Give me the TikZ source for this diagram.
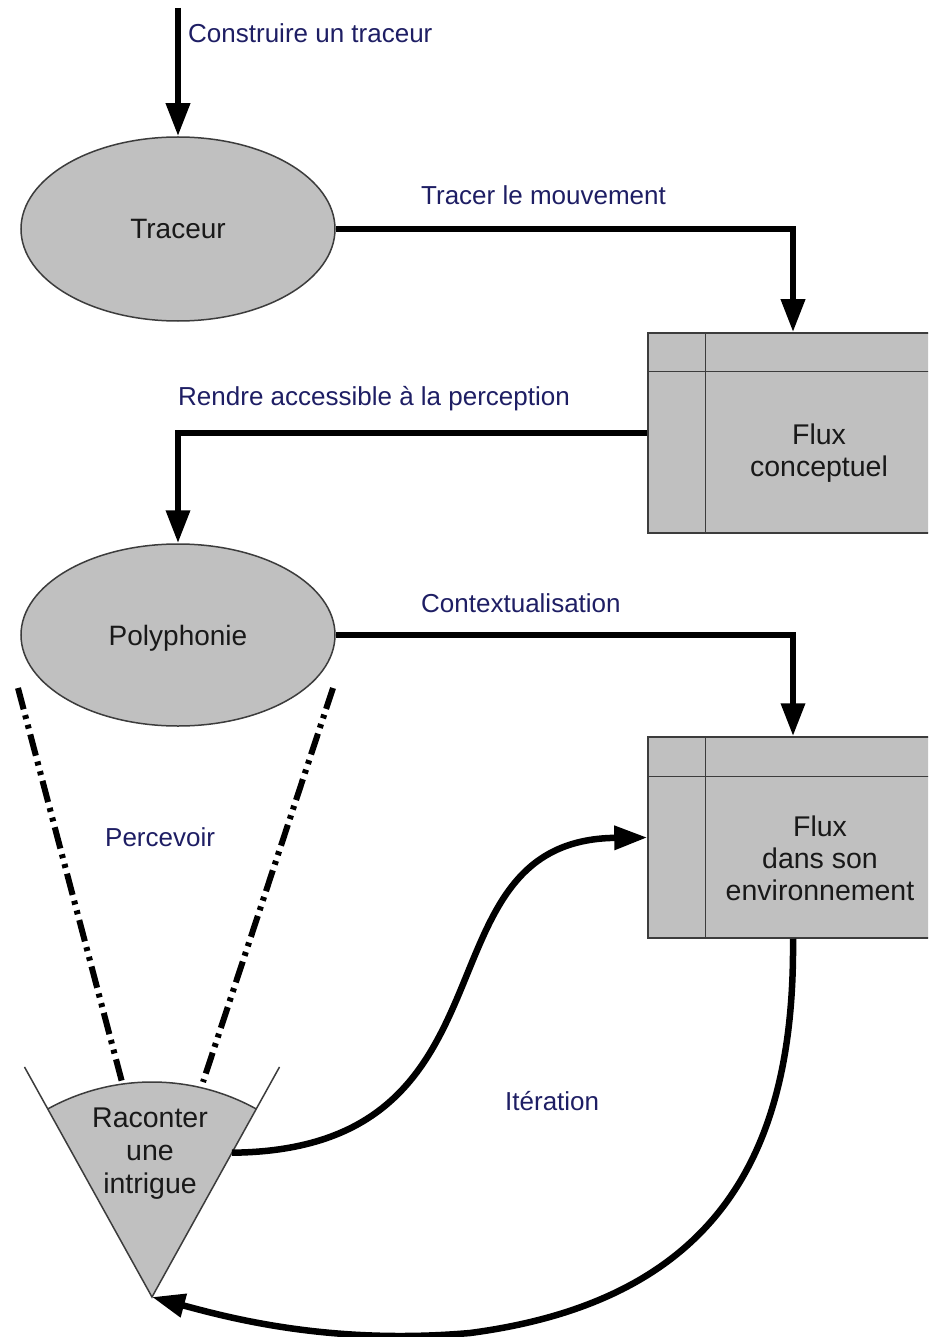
\documentclass[tikz,border=0pt]{standalone}
\usepackage{fontspec}
\setmainfont{Liberation Sans}
\usetikzlibrary{arrows.meta,shapes.geometric,calc}
\definecolor{lblblue}{RGB}{30,30,100}
\definecolor{fillg}{RGB}{192,192,192}
\definecolor{edgeg}{RGB}{60,60,60}
\begin{document}
\begin{tikzpicture}[x=1pt,y=-1pt,
  conn/.style={line width=6.5pt, -{Triangle[width=23pt,length=33pt]}},
  oval/.style={ellipse, draw=edgeg, line width=1.5pt, fill=fillg, minimum width=314pt, minimum height=184pt, inner sep=0pt, font=\fontsize{28}{32}\selectfont, text=black!90, text depth=0pt},
  flux/.style={rectangle, draw=edgeg, line width=1.5pt, fill=fillg, inner sep=0pt},
  fluxtext/.style={align=center, inner sep=0pt, font=\fontsize{28.5}{32}\selectfont, text=black!90},
  lbl/.style={anchor=base west, inner sep=0pt, text=lblblue, font=\fontsize{26}{30}\selectfont},
  cone/.style={line width=6pt, dash pattern=on 22pt off 6pt on 4pt off 6pt on 4pt off 6pt},
  thinline/.style={draw=edgeg, line width=1.5pt}
]
\useasboundingbox (0,0) rectangle (928,1337);
\clip (0,0) rectangle (928,1337);
\fill[white] (0,0) rectangle (928,1337);

% boxes
\node[flux, minimum width=290pt, minimum height=200pt] (fc) at (793,433) {};
\draw[thinline] ([xshift=58pt]fc.north west) -- ([xshift=58pt]fc.south west);
\draw[thinline] ([yshift=-39pt]fc.north west) -- ([yshift=-39pt]fc.north east);
\node[fluxtext] (fct) at (819,453) {Flux\\conceptuel};

\node[flux, minimum width=290pt, minimum height=201pt] (fe) at (793,837.5) {};
\draw[thinline] ([xshift=58pt]fe.north west) -- ([xshift=58pt]fe.south west);
\draw[thinline] ([yshift=-40pt]fe.north west) -- ([yshift=-40pt]fe.north east);
\node[fluxtext] (fet) at (820,858) {Flux\\dans son\\environnement};

% ellipses
\node[oval] (tr) at (178,229) {Traceur};
\node[oval, minimum height=182pt] (po) at (178,635) {Polyphonie};

% sector
\coordinate (apex) at (152,1297);
\fill[fillg] (apex) -- ++(241:215) arc[start angle=241,end angle=299,radius=215] -- cycle;
\draw[thinline] ($(apex)+(241:263)$) -- (apex) -- ($(apex)+(299:263)$);
\draw[thinline] (apex) ++(241:215) arc[start angle=241,end angle=299,radius=215];
\node[align=center, inner sep=0pt, font=\fontsize{28.5}{33}\selectfont, text=black!90] (rc) at (150,1154) {Raconter\\une\\intrigue};
\coordinate (rcr) at ($(apex)+(299:165)$);

% cone lines
\coordinate (cl1) at (18,688);
\coordinate (cl2) at (122,1082);
\coordinate (cr1) at (333,688);
\coordinate (cr2) at (203,1082);
\draw[cone] (cl1) -- (cl2);
\draw[cone] (cr1) -- (cr2);

% connectors
\coordinate (start) at (178,8);
\draw[conn] (start) -- (tr.north);
\draw[conn] (tr.east) -| (fc.north);
\draw[conn] (fc.west) -| (po.north);
\draw[conn] (po.east) -| (fe.north);
\draw[conn] (rcr) .. controls (530,1150) and (410,840) .. (fe.west);
\draw[conn] (fe.south) .. controls (795,1150) and (720,1300) .. (470,1333) .. controls (330,1345) and (230,1318) .. (apex);

% labels
\node[lbl] (l1) at (188,43) {Construire un traceur};
\node[lbl] (l2) at (421,205) {Tracer le mouvement};
\node[lbl] (l3) at (178,405) {Rendre accessible à la perception};
\node[lbl] (l4) at (421,612) {Contextualisation};
\node[lbl] (l5) at (105,846) {Percevoir};
\node[lbl] (l6) at (505,1110) {Itération};
\end{tikzpicture}
\end{document}
